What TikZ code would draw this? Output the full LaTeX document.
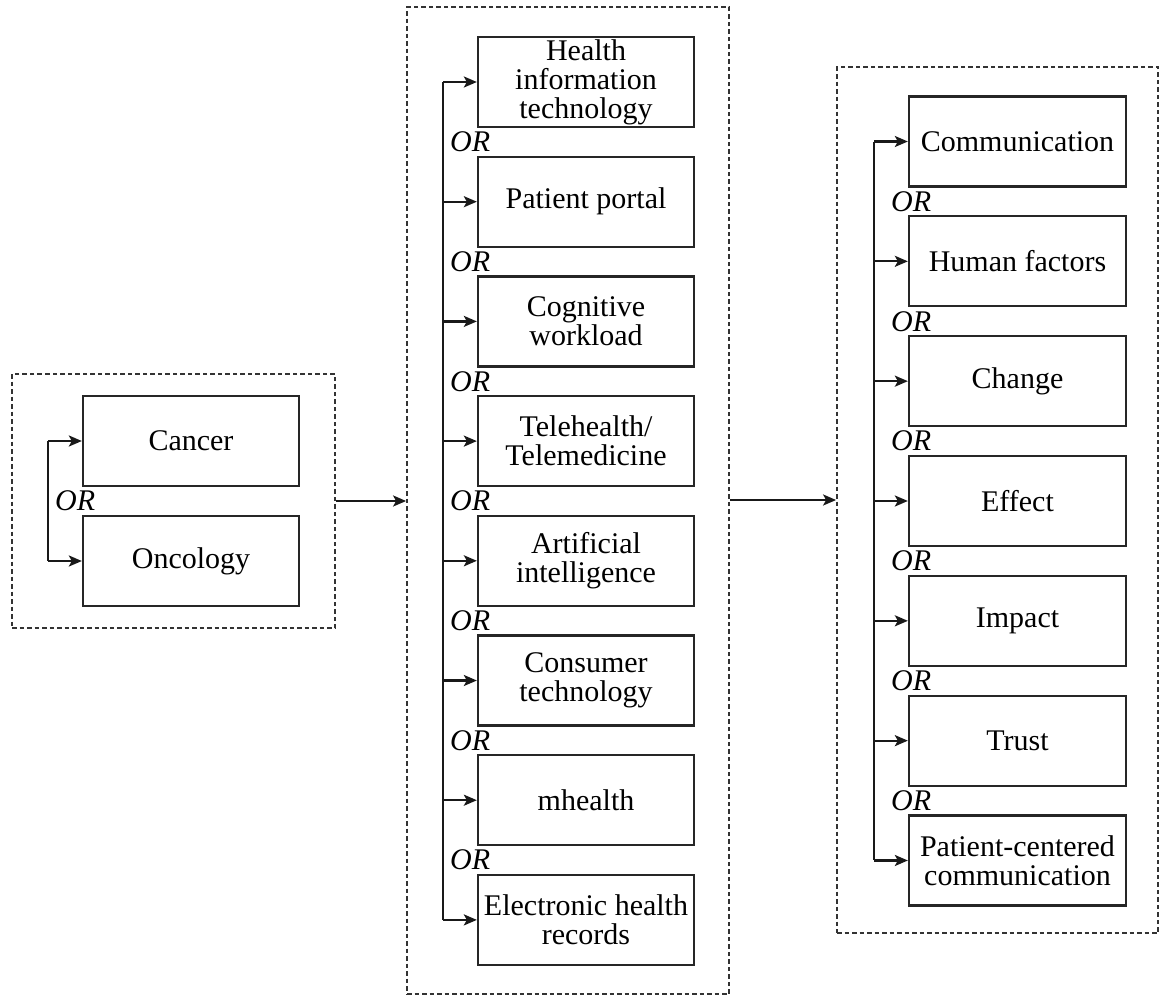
\documentclass[tikz,border=0pt]{standalone}
\usepackage{fontspec}
\setmainfont{Liberation Serif}
\usetikzlibrary{arrows.meta}
\begin{document}
\begin{tikzpicture}[x=1pt,y=-1pt,
  box/.style={draw=black!85, line width=2.3pt, minimum height=90pt, inner sep=0pt, align=center, font=\fontsize{30}{29}\selectfont},
  dbox/.style={draw=black!80, line width=1.8pt, dash pattern=on 4.5pt off 3pt, inner sep=0pt},
  ortext/.style={font=\fontsize{30}{30}\selectfont\itshape, inner sep=0pt, anchor=west},
  arr/.style={line width=2.2pt, draw=black!90, -{Stealth[length=13pt,width=11pt,inset=3pt]}},
  trunk/.style={line width=2.2pt, draw=black!90}]
\useasboundingbox (0,0) rectangle (1160,996);

% dashed groups
\node[dbox, minimum width=323pt, minimum height=254pt] (G1) at (173.5,501) {};
\node[dbox, minimum width=322pt, minimum height=987pt] (G2) at (568,500.5) {};
\node[dbox, minimum width=321pt, minimum height=866pt] (G3) at (997.5,500) {};

% left group
\node[box, minimum width=216pt] (L1) at (191,441) {Cancer};
\node[box, minimum width=216pt] (L2) at (191,561) {Oncology};
\coordinate (LT1) at (48,441);
\coordinate (LT2) at (48,561);
\draw[trunk] (LT1) -- (LT2);
\draw[arr] (LT1) -- (L1.west);
\draw[arr] (LT2) -- (L2.west);
\node[ortext] (LOR) at (55,501) {OR};

% middle group
\foreach \i/\t in {0/{Health\\information\\technology},1/{Patient portal},2/{Cognitive\\workload},3/{Telehealth/\\Telemedicine},4/{Artificial\\intelligence},5/{Consumer\\technology},6/{mhealth},7/{Electronic health\\records}}{
  \node[box, minimum width=216pt] (M\i) at (586,{82+119.7*\i}) {\t};
  \coordinate (MT\i) at (443,{82+119.7*\i});
  \draw[arr] (MT\i) -- (M\i.west);
}
\draw[trunk] (MT0) -- (MT7);
\foreach \i in {0,...,6}{
  \node[ortext] (MOR\i) at (450,{142+119.7*\i}) {OR};
}

% right group
\foreach \i/\t in {0/{Communication},1/{Human factors},2/{Change},3/{Effect},4/{Impact},5/{Trust},6/{Patient-centered\\communication}}{
  \node[box, minimum width=217pt] (R\i) at (1017.5,{141.5+119.83*\i}) {\t};
  \coordinate (RT\i) at (874,{141.5+119.83*\i});
  \draw[arr] (RT\i) -- (R\i.west);
}
\draw[trunk] (RT0) -- (RT6);
\foreach \i in {0,...,5}{
  \node[ortext] (ROR\i) at (891,{201.5+119.83*\i}) {OR};
}

% group connectors
\draw[arr] (G1.east) -- (G1.east -| G2.west);
\draw[arr] (G2.east |- G3.west) -- (G3.west);
\end{tikzpicture}
\end{document}
